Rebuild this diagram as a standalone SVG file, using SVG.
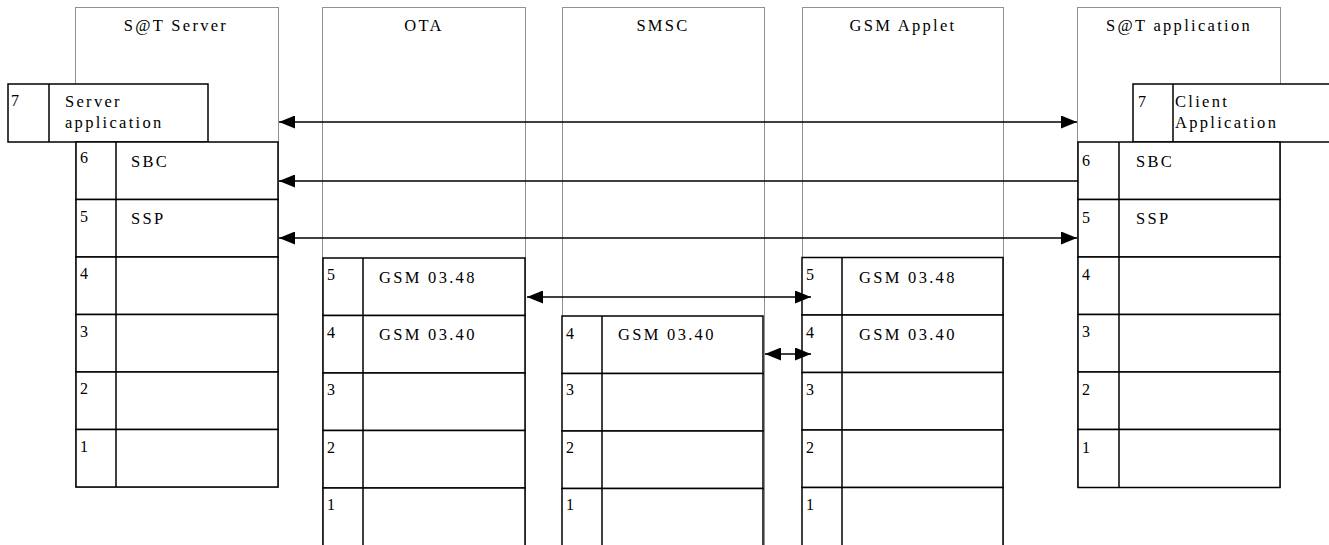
<svg xmlns="http://www.w3.org/2000/svg" width="1329" height="545" viewBox="0 0 1329 545">
<style>
.dot{fill:none;stroke:#222;stroke-width:1;stroke-dasharray:1 1}
.box{fill:#fff;stroke:#000;stroke-width:1.5}
.div{stroke:#000;stroke-width:1.5}
text{font-family:"Liberation Serif","Times New Roman","DejaVu Serif",serif;fill:#000}
.num{font-size:16px}
.lbl{font-size:16.5px;letter-spacing:2.3px}
.hdr{font-size:16.5px;letter-spacing:2.3px;text-anchor:middle}
.conn{stroke:#000;stroke-width:1.5;fill:none}
</style>
<defs>
<marker id="ah" markerUnits="userSpaceOnUse" markerWidth="16" markerHeight="13" refX="16" refY="6.5" orient="auto-start-reverse">
<path d="M0,0 L16,6.5 L0,13 z" fill="#000"/>
</marker>
</defs>
<rect width="1329" height="545" fill="#fff"/>

<g id="col-sat-server">
<rect class="dot" x="75.5" y="7.5" width="203" height="480"/>
<text class="hdr" x="176" y="31">S@T Server</text>
</g>
<g id="col-ota">
<rect class="dot" x="322.5" y="7.5" width="203" height="560"/>
<text class="hdr" x="424" y="31">OTA</text>
</g>
<g id="col-smsc">
<rect class="dot" x="562.5" y="7.5" width="202" height="560"/>
<text class="hdr" x="663" y="31">SMSC</text>
</g>
<g id="col-gsm-applet">
<rect class="dot" x="802.5" y="7.5" width="201" height="560"/>
<text class="hdr" x="903" y="31">GSM Applet</text>
</g>
<g id="col-sat-application">
<rect class="dot" x="1077.5" y="7.5" width="203" height="480"/>
<text class="hdr" x="1179" y="31">S@T application</text>
</g>

<g id="server-7">
<rect class="box" x="8" y="84" width="200" height="58"/><line class="div" x1="49" y1="84" x2="49" y2="142"/>
<text class="num" x="11" y="106">7</text>
<text class="lbl" x="65" y="107">Server</text><text class="lbl" x="65" y="128">application</text>
</g>
<g id="server-6"><rect class="box" x="76" y="142" width="202" height="57.5"/><line class="div" x1="116" y1="142" x2="116" y2="199.5"/><text class="num" x="80" y="163">6</text><text class="lbl" x="131" y="167">SBC</text></g>
<g id="server-5"><rect class="box" x="76" y="199.5" width="202" height="57.5"/><line class="div" x1="116" y1="199.5" x2="116" y2="257"/><text class="num" x="80" y="222">5</text><text class="lbl" x="131" y="224">SSP</text></g>
<g id="server-4"><rect class="box" x="76" y="257" width="202" height="57.5"/><line class="div" x1="116" y1="257" x2="116" y2="314.5"/><text class="num" x="80" y="279">4</text></g>
<g id="server-3"><rect class="box" x="76" y="314.5" width="202" height="57.5"/><line class="div" x1="116" y1="314.5" x2="116" y2="372"/><text class="num" x="80" y="337">3</text></g>
<g id="server-2"><rect class="box" x="76" y="372" width="202" height="57.5"/><line class="div" x1="116" y1="372" x2="116" y2="429.5"/><text class="num" x="80" y="394">2</text></g>
<g id="server-1"><rect class="box" x="76" y="429.5" width="202" height="57.5"/><line class="div" x1="116" y1="429.5" x2="116" y2="487"/><text class="num" x="80" y="452">1</text></g>

<g id="ota-5"><rect class="box" x="323" y="258" width="202" height="57.5"/><line class="div" x1="363" y1="258" x2="363" y2="315.5"/><text class="num" x="327" y="280">5</text><text class="lbl" x="379" y="283">GSM 03.48</text></g>
<g id="ota-4"><rect class="box" x="323" y="315.5" width="202" height="57.5"/><line class="div" x1="363" y1="315.5" x2="363" y2="373"/><text class="num" x="327" y="338">4</text><text class="lbl" x="379" y="340">GSM 03.40</text></g>
<g id="ota-3"><rect class="box" x="323" y="373" width="202" height="57.5"/><line class="div" x1="363" y1="373" x2="363" y2="430.5"/><text class="num" x="327" y="395">3</text></g>
<g id="ota-2"><rect class="box" x="323" y="430.5" width="202" height="57.5"/><line class="div" x1="363" y1="430.5" x2="363" y2="488"/><text class="num" x="327" y="453">2</text></g>
<g id="ota-1"><rect class="box" x="323" y="488" width="202" height="70"/><line class="div" x1="363" y1="488" x2="363" y2="558"/><text class="num" x="327" y="510">1</text></g>

<g id="smsc-4"><rect class="box" x="562" y="316" width="201" height="57.5"/><line class="div" x1="602" y1="316" x2="602" y2="373.5"/><text class="num" x="566" y="339">4</text><text class="lbl" x="618" y="340">GSM 03.40</text></g>
<g id="smsc-3"><rect class="box" x="562" y="373.5" width="201" height="57.5"/><line class="div" x1="602" y1="373.5" x2="602" y2="431"/><text class="num" x="566" y="395">3</text></g>
<g id="smsc-2"><rect class="box" x="562" y="431" width="201" height="57.5"/><line class="div" x1="602" y1="431" x2="602" y2="488.5"/><text class="num" x="566" y="453">2</text></g>
<g id="smsc-1"><rect class="box" x="562" y="488.5" width="201" height="70"/><line class="div" x1="602" y1="488.5" x2="602" y2="558"/><text class="num" x="566" y="510">1</text></g>

<g id="applet-5"><rect class="box" x="802" y="257.5" width="201" height="57.5"/><line class="div" x1="842" y1="257.5" x2="842" y2="315"/><text class="num" x="806" y="280">5</text><text class="lbl" x="859" y="283">GSM 03.48</text></g>
<g id="applet-4"><rect class="box" x="802" y="315" width="201" height="57.5"/><line class="div" x1="842" y1="315" x2="842" y2="372.5"/><text class="num" x="806" y="338">4</text><text class="lbl" x="859" y="340">GSM 03.40</text></g>
<g id="applet-3"><rect class="box" x="802" y="372.5" width="201" height="57.5"/><line class="div" x1="842" y1="372.5" x2="842" y2="430"/><text class="num" x="806" y="395">3</text></g>
<g id="applet-2"><rect class="box" x="802" y="430" width="201" height="57.5"/><line class="div" x1="842" y1="430" x2="842" y2="487.5"/><text class="num" x="806" y="453">2</text></g>
<g id="applet-1"><rect class="box" x="802" y="487.5" width="201" height="70"/><line class="div" x1="842" y1="487.5" x2="842" y2="558"/><text class="num" x="806" y="510">1</text></g>

<g id="client-7">
<rect class="box" x="1133" y="84" width="210" height="58"/><line class="div" x1="1173" y1="84" x2="1173" y2="142"/>
<text class="num" x="1138" y="107">7</text>
<text class="lbl" x="1175" y="107">Client</text><text class="lbl" x="1175" y="128">Application</text>
</g>
<g id="client-6"><rect class="box" x="1078" y="142" width="202" height="57.5"/><line class="div" x1="1119" y1="142" x2="1119" y2="199.5"/><text class="num" x="1082" y="166">6</text><text class="lbl" x="1136" y="167">SBC</text></g>
<g id="client-5"><rect class="box" x="1078" y="199.5" width="202" height="57.5"/><line class="div" x1="1119" y1="199.5" x2="1119" y2="257"/><text class="num" x="1082" y="223">5</text><text class="lbl" x="1136" y="224">SSP</text></g>
<g id="client-4"><rect class="box" x="1078" y="257" width="202" height="57.5"/><line class="div" x1="1119" y1="257" x2="1119" y2="314.5"/><text class="num" x="1082" y="280">4</text></g>
<g id="client-3"><rect class="box" x="1078" y="314.5" width="202" height="57.5"/><line class="div" x1="1119" y1="314.5" x2="1119" y2="372"/><text class="num" x="1082" y="337">3</text></g>
<g id="client-2"><rect class="box" x="1078" y="372" width="202" height="57.5"/><line class="div" x1="1119" y1="372" x2="1119" y2="429.5"/><text class="num" x="1082" y="395">2</text></g>
<g id="client-1"><rect class="box" x="1078" y="429.5" width="202" height="58"/><line class="div" x1="1119" y1="429.5" x2="1119" y2="487.5"/><text class="num" x="1082" y="453">1</text></g>

<g id="connectors">
<line class="conn" x1="279" y1="122" x2="1077" y2="122" marker-start="url(#ah)" marker-end="url(#ah)"/>
<line class="conn" x1="1078" y1="181" x2="279" y2="181" marker-end="url(#ah)"/>
<line class="conn" x1="279" y1="238" x2="1077" y2="238" marker-start="url(#ah)" marker-end="url(#ah)"/>
<line class="conn" x1="527" y1="297" x2="811" y2="297" marker-start="url(#ah)" marker-end="url(#ah)"/>
<line class="conn" x1="765" y1="354" x2="811" y2="354" marker-start="url(#ah)" marker-end="url(#ah)"/>
</g>
</svg>
